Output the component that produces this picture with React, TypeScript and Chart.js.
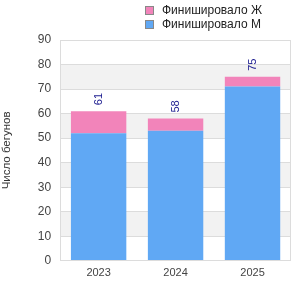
import React, { useEffect, useRef } from "react";
import { Chart, registerables } from "chart.js";

Chart.register(...registerables);

const years = ["2023", "2024", "2025"];
const finishedM = [52, 53, 71];
const finishedF = [9, 5, 4];
const yTicksMax = 90;
const yTickStep = 10;
const yTitle = "Число бегунов";
const labelM = "Финишировало М";
const labelF = "Финишировало Ж";

const colorM = "#60a8f4";
const colorF = "#f284ba";

const FONT = "'Liberation Sans', Arial, sans-serif";

const bandsPlugin = {
  id: "bands",
  beforeDraw(chart: any) {
    const { ctx, chartArea, scales } = chart;
    const y = scales.y;
    ctx.save();
    ctx.fillStyle = "#f2f2f2";
    for (let v = 10; v < yTicksMax; v += 20) {
      const top = y.getPixelForValue(v + 10);
      const bot = y.getPixelForValue(v);
      ctx.fillRect(chartArea.left, top, chartArea.right - chartArea.left, bot - top);
    }
    ctx.restore();
  },
  afterDraw(chart: any) {
    const { ctx, chartArea } = chart;
    ctx.save();
    ctx.strokeStyle = "#dcdcdc";
    ctx.lineWidth = 1;
    ctx.strokeRect(
      Math.round(chartArea.left) + 0.5,
      Math.round(chartArea.top) + 0.5,
      Math.round(chartArea.right - chartArea.left) - 1,
      Math.round(chartArea.bottom - chartArea.top) - 1
    );
    ctx.restore();
  },
};

const legendPlugin = {
  id: "stackedLegend",
  afterDraw(chart: any) {
    const { ctx } = chart;
    const items = [
      { text: labelF, color: colorF },
      { text: labelM, color: colorM },
    ];
    ctx.save();
    ctx.font = `12px ${FONT}`;
    ctx.textBaseline = "middle";
    ctx.textAlign = "left";
    items.forEach((it, i) => {
      const cy = 10.5 + i * 14;
      ctx.fillStyle = it.color;
      ctx.fillRect(145, cy - 4.5, 9, 9);
      ctx.strokeStyle = "#888";
      ctx.lineWidth = 1;
      ctx.strokeRect(145.5, cy - 4, 8, 8);
      ctx.fillStyle = "#222";
      ctx.fillText(it.text, 162, cy + 0.5);
    });
    ctx.restore();
  },
};

const totalsPlugin = {
  id: "totals",
  afterDatasetsDraw(chart: any) {
    const { ctx } = chart;
    const last = chart.getDatasetMeta(chart.data.datasets.length - 1);
    ctx.save();
    ctx.fillStyle = "#1a1a8e";
    ctx.font = `11px ${FONT}`;
    ctx.textAlign = "left";
    ctx.textBaseline = "middle";
    last.data.forEach((el: any, i: number) => {
      const total = finishedM[i] + finishedF[i];
      ctx.save();
      ctx.translate(el.x, el.y - 6);
      ctx.rotate(-Math.PI / 2);
      ctx.fillText(String(total), 0, 0);
      ctx.restore();
    });
    ctx.restore();
  },
};

export default function App() {
  const ref = useRef<HTMLCanvasElement | null>(null);
  useEffect(() => {
    if (!ref.current) return;
    const chart = new Chart(ref.current, {
      type: "bar",
      data: {
        labels: years,
        datasets: [
          { label: labelM, data: finishedM, backgroundColor: colorM, borderWidth: 0 },
          { label: labelF, data: finishedF, backgroundColor: colorF, borderWidth: 0 },
        ],
      },
      options: {
        animation: false,
        responsive: false,
        maintainAspectRatio: false,
        layout: { padding: { left: 0, right: 9, top: 40, bottom: 14 } },
        plugins: {
          legend: { display: false },
          tooltip: { enabled: false },
        },
        scales: {
          x: {
            stacked: true,
            grid: { display: false, drawTicks: false },
            border: { display: false },
            ticks: { color: "#444", font: { family: FONT, size: 11 }, padding: 6 },
          },
          y: {
            stacked: true,
            min: 0,
            max: yTicksMax,
            ticks: { stepSize: yTickStep, color: "#444", font: { family: FONT, size: 12 }, padding: 9 },
            grid: { color: "#dcdcdc", drawTicks: false },
            border: { display: false },
            title: {
              display: true,
              text: yTitle,
              color: "#333",
              font: { family: FONT, size: 11.5 },
              padding: { top: 0, bottom: 15 },
            },
          },
        },
      },
      plugins: [bandsPlugin, totalsPlugin, legendPlugin],
    });
    return () => chart.destroy();
  }, []);
  return (
    <div style={{ position: "fixed", left: 0, top: 0, width: 300, height: 300, background: "#fff" }}>
      <canvas ref={ref} width={300} height={300} style={{ display: "block" }} />
    </div>
  );
}
